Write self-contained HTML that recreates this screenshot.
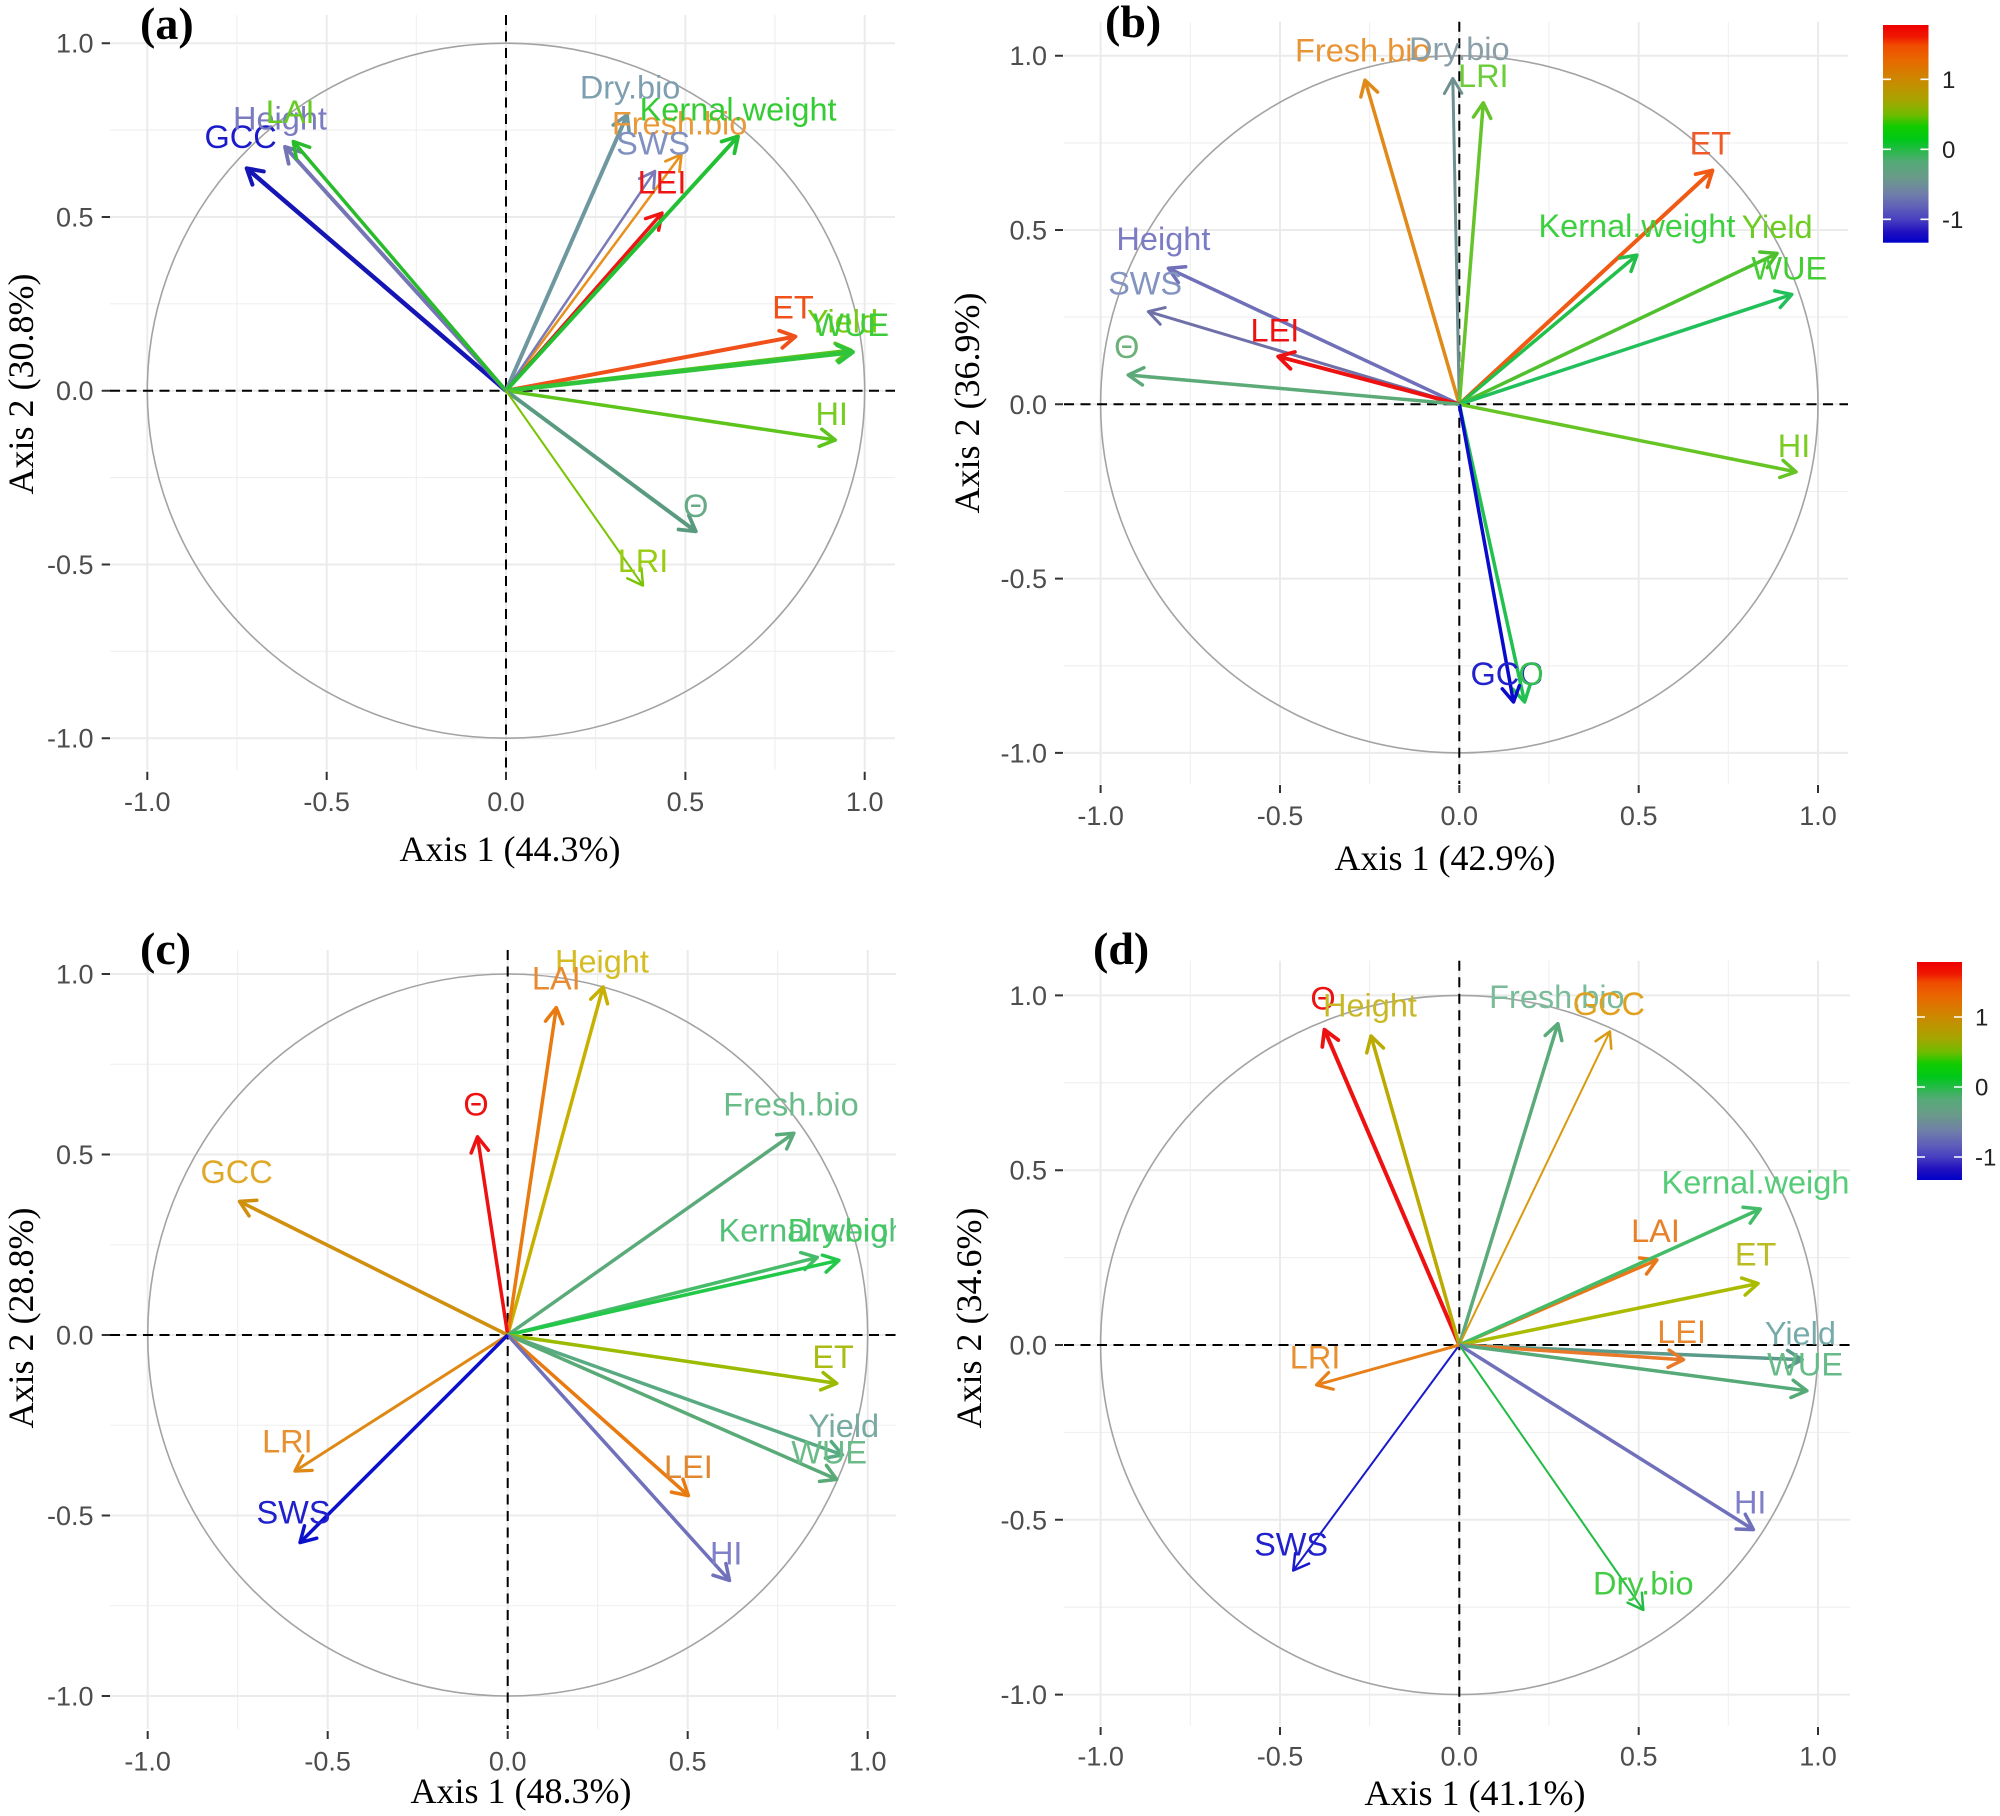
<!DOCTYPE html>
<html>
<head>
<meta charset="utf-8">
<style>
html,body{margin:0;padding:0;background:#fff;}
svg{display:block;}
.lbl{font-family:"Liberation Sans",Arial,sans-serif;font-size:32.5px;text-anchor:middle;}
.tk{font-family:"Liberation Sans",Arial,sans-serif;font-size:27px;fill:#4D4D4D;}
.ttl{font-family:"Liberation Serif","Times New Roman",serif;font-size:36px;fill:#000;text-anchor:middle;}
.tag{font-family:"Liberation Serif","Times New Roman",serif;font-size:46px;font-weight:bold;fill:#000;}
.leg{font-family:"Liberation Sans",Arial,sans-serif;font-size:24px;fill:#222;}
.gmaj{stroke:#EBEBEB;stroke-width:2;fill:none;}
.gmin{stroke:#EFEFEF;stroke-width:1.1;fill:none;}
.dash{stroke:#000;stroke-width:2;stroke-dasharray:10 6.5;fill:none;}
.circ{stroke:#A3A3A3;stroke-width:1.6;fill:none;}
.tick{stroke:#333;stroke-width:2;}
marker path{fill:none;stroke-linecap:round;stroke-linejoin:round;}
</style>
</head>
<body>
<svg width="2000" height="1816" viewBox="0 0 2000 1816" xmlns="http://www.w3.org/2000/svg">
<defs>
<clipPath id="clipA"><rect x="110" y="15" width="785" height="755"/></clipPath>
<clipPath id="clipB"><rect x="1064" y="21.7" width="784" height="762.3"/></clipPath>
<clipPath id="clipC"><rect x="110" y="950" width="786" height="779"/></clipPath>
<clipPath id="clipD"><rect x="1064" y="960.7" width="786" height="765.3"/></clipPath>
<linearGradient id="cbar" x1="0" y1="0" x2="0" y2="1">
<stop offset="0" stop-color="#EE0000"/>
<stop offset="0.055" stop-color="#F01800"/>
<stop offset="0.092" stop-color="#F04A00"/>
<stop offset="0.16" stop-color="#E86800"/>
<stop offset="0.25" stop-color="#CC8800"/>
<stop offset="0.345" stop-color="#A8A400"/>
<stop offset="0.413" stop-color="#70BB00"/>
<stop offset="0.468" stop-color="#10CC00"/>
<stop offset="0.528" stop-color="#00C81A"/>
<stop offset="0.571" stop-color="#22BB44"/>
<stop offset="0.629" stop-color="#55AA77"/>
<stop offset="0.703" stop-color="#6A9A8A"/>
<stop offset="0.772" stop-color="#7080A8"/>
<stop offset="0.836" stop-color="#6060B8"/>
<stop offset="0.893" stop-color="#4840C0"/>
<stop offset="0.951" stop-color="#2010C0"/>
<stop offset="1" stop-color="#0000C8"/>
</linearGradient>
<marker id="a1" orient="auto" markerUnits="userSpaceOnUse" overflow="visible"><path d="M-15,-8.7L0,0L-15,8.7" stroke="#1515B5" stroke-width="4"/></marker>
<marker id="a2" orient="auto" markerUnits="userSpaceOnUse" overflow="visible"><path d="M-15,-8.7L0,0L-15,8.7" stroke="#7575B5" stroke-width="3.8"/></marker>
<marker id="a3" orient="auto" markerUnits="userSpaceOnUse" overflow="visible"><path d="M-15,-8.7L0,0L-15,8.7" stroke="#28BB2A" stroke-width="3.5"/></marker>
<marker id="a4" orient="auto" markerUnits="userSpaceOnUse" overflow="visible"><path d="M-15,-8.7L0,0L-15,8.7" stroke="#6F97A0" stroke-width="3.5"/></marker>
<marker id="a5" orient="auto" markerUnits="userSpaceOnUse" overflow="visible"><path d="M-15,-8.7L0,0L-15,8.7" stroke="#22C033" stroke-width="3.8"/></marker>
<marker id="a6" orient="auto" markerUnits="userSpaceOnUse" overflow="visible"><path d="M-15,-8.7L0,0L-15,8.7" stroke="#E8901C" stroke-width="2.8"/></marker>
<marker id="a7" orient="auto" markerUnits="userSpaceOnUse" overflow="visible"><path d="M-15,-8.7L0,0L-15,8.7" stroke="#7A7AB8" stroke-width="2.8"/></marker>
<marker id="a8" orient="auto" markerUnits="userSpaceOnUse" overflow="visible"><path d="M-15,-8.7L0,0L-15,8.7" stroke="#EE1515" stroke-width="3.5"/></marker>
<marker id="a9" orient="auto" markerUnits="userSpaceOnUse" overflow="visible"><path d="M-15,-8.7L0,0L-15,8.7" stroke="#F0501A" stroke-width="3.8"/></marker>
<marker id="a10" orient="auto" markerUnits="userSpaceOnUse" overflow="visible"><path d="M-15,-8.7L0,0L-15,8.7" stroke="#55C41E" stroke-width="3.8"/></marker>
<marker id="a11" orient="auto" markerUnits="userSpaceOnUse" overflow="visible"><path d="M-15,-8.7L0,0L-15,8.7" stroke="#30C43A" stroke-width="4"/></marker>
<marker id="a12" orient="auto" markerUnits="userSpaceOnUse" overflow="visible"><path d="M-15,-8.7L0,0L-15,8.7" stroke="#5CC41A" stroke-width="3.5"/></marker>
<marker id="a13" orient="auto" markerUnits="userSpaceOnUse" overflow="visible"><path d="M-15,-8.7L0,0L-15,8.7" stroke="#5A9A80" stroke-width="3.8"/></marker>
<marker id="a14" orient="auto" markerUnits="userSpaceOnUse" overflow="visible"><path d="M-15,-8.7L0,0L-15,8.7" stroke="#77C400" stroke-width="2.4"/></marker>
<marker id="b1" orient="auto" markerUnits="userSpaceOnUse" overflow="visible"><path d="M-15,-8.7L0,0L-15,8.7" stroke="#E08A1A" stroke-width="3.5"/></marker>
<marker id="b2" orient="auto" markerUnits="userSpaceOnUse" overflow="visible"><path d="M-15,-8.7L0,0L-15,8.7" stroke="#6F9090" stroke-width="3"/></marker>
<marker id="b3" orient="auto" markerUnits="userSpaceOnUse" overflow="visible"><path d="M-15,-8.7L0,0L-15,8.7" stroke="#66C42A" stroke-width="3.5"/></marker>
<marker id="b4" orient="auto" markerUnits="userSpaceOnUse" overflow="visible"><path d="M-15,-8.7L0,0L-15,8.7" stroke="#F05A14" stroke-width="3.8"/></marker>
<marker id="b5" orient="auto" markerUnits="userSpaceOnUse" overflow="visible"><path d="M-15,-8.7L0,0L-15,8.7" stroke="#22C04A" stroke-width="3.5"/></marker>
<marker id="b6" orient="auto" markerUnits="userSpaceOnUse" overflow="visible"><path d="M-15,-8.7L0,0L-15,8.7" stroke="#4EC02E" stroke-width="3.5"/></marker>
<marker id="b7" orient="auto" markerUnits="userSpaceOnUse" overflow="visible"><path d="M-15,-8.7L0,0L-15,8.7" stroke="#22C05A" stroke-width="3.5"/></marker>
<marker id="b8" orient="auto" markerUnits="userSpaceOnUse" overflow="visible"><path d="M-15,-8.7L0,0L-15,8.7" stroke="#66C424" stroke-width="3.5"/></marker>
<marker id="b9" orient="auto" markerUnits="userSpaceOnUse" overflow="visible"><path d="M-15,-8.7L0,0L-15,8.7" stroke="#0A0ACC" stroke-width="3.5"/></marker>
<marker id="b10" orient="auto" markerUnits="userSpaceOnUse" overflow="visible"><path d="M-15,-8.7L0,0L-15,8.7" stroke="#22C050" stroke-width="3.5"/></marker>
<marker id="b11" orient="auto" markerUnits="userSpaceOnUse" overflow="visible"><path d="M-15,-8.7L0,0L-15,8.7" stroke="#7070BA" stroke-width="3.5"/></marker>
<marker id="b12" orient="auto" markerUnits="userSpaceOnUse" overflow="visible"><path d="M-15,-8.7L0,0L-15,8.7" stroke="#7070A8" stroke-width="3"/></marker>
<marker id="b13" orient="auto" markerUnits="userSpaceOnUse" overflow="visible"><path d="M-15,-8.7L0,0L-15,8.7" stroke="#EE1111" stroke-width="3.8"/></marker>
<marker id="b14" orient="auto" markerUnits="userSpaceOnUse" overflow="visible"><path d="M-15,-8.7L0,0L-15,8.7" stroke="#5CAA78" stroke-width="3.5"/></marker>
<marker id="c1" orient="auto" markerUnits="userSpaceOnUse" overflow="visible"><path d="M-15,-8.7L0,0L-15,8.7" stroke="#C8B000" stroke-width="3.5"/></marker>
<marker id="c2" orient="auto" markerUnits="userSpaceOnUse" overflow="visible"><path d="M-15,-8.7L0,0L-15,8.7" stroke="#E87A10" stroke-width="3.5"/></marker>
<marker id="c3" orient="auto" markerUnits="userSpaceOnUse" overflow="visible"><path d="M-15,-8.7L0,0L-15,8.7" stroke="#EE1111" stroke-width="3.5"/></marker>
<marker id="c4" orient="auto" markerUnits="userSpaceOnUse" overflow="visible"><path d="M-15,-8.7L0,0L-15,8.7" stroke="#D0900E" stroke-width="3.5"/></marker>
<marker id="c5" orient="auto" markerUnits="userSpaceOnUse" overflow="visible"><path d="M-15,-8.7L0,0L-15,8.7" stroke="#5AAA7A" stroke-width="3.5"/></marker>
<marker id="c6" orient="auto" markerUnits="userSpaceOnUse" overflow="visible"><path d="M-15,-8.7L0,0L-15,8.7" stroke="#48BB6A" stroke-width="3.5"/></marker>
<marker id="c7" orient="auto" markerUnits="userSpaceOnUse" overflow="visible"><path d="M-15,-8.7L0,0L-15,8.7" stroke="#22C848" stroke-width="3.5"/></marker>
<marker id="c8" orient="auto" markerUnits="userSpaceOnUse" overflow="visible"><path d="M-15,-8.7L0,0L-15,8.7" stroke="#9ABB00" stroke-width="3.5"/></marker>
<marker id="c9" orient="auto" markerUnits="userSpaceOnUse" overflow="visible"><path d="M-15,-8.7L0,0L-15,8.7" stroke="#58AA82" stroke-width="3.5"/></marker>
<marker id="c10" orient="auto" markerUnits="userSpaceOnUse" overflow="visible"><path d="M-15,-8.7L0,0L-15,8.7" stroke="#5AAA78" stroke-width="3.5"/></marker>
<marker id="c11" orient="auto" markerUnits="userSpaceOnUse" overflow="visible"><path d="M-15,-8.7L0,0L-15,8.7" stroke="#E87A10" stroke-width="3.5"/></marker>
<marker id="c12" orient="auto" markerUnits="userSpaceOnUse" overflow="visible"><path d="M-15,-8.7L0,0L-15,8.7" stroke="#7070BB" stroke-width="3.5"/></marker>
<marker id="c13" orient="auto" markerUnits="userSpaceOnUse" overflow="visible"><path d="M-15,-8.7L0,0L-15,8.7" stroke="#E08814" stroke-width="3.2"/></marker>
<marker id="c14" orient="auto" markerUnits="userSpaceOnUse" overflow="visible"><path d="M-15,-8.7L0,0L-15,8.7" stroke="#0A10CC" stroke-width="3.5"/></marker>
<marker id="d1" orient="auto" markerUnits="userSpaceOnUse" overflow="visible"><path d="M-15,-8.7L0,0L-15,8.7" stroke="#EE1111" stroke-width="3.8"/></marker>
<marker id="d2" orient="auto" markerUnits="userSpaceOnUse" overflow="visible"><path d="M-15,-8.7L0,0L-15,8.7" stroke="#BBAA00" stroke-width="3.5"/></marker>
<marker id="d3" orient="auto" markerUnits="userSpaceOnUse" overflow="visible"><path d="M-15,-8.7L0,0L-15,8.7" stroke="#5AAA7A" stroke-width="3.5"/></marker>
<marker id="d4" orient="auto" markerUnits="userSpaceOnUse" overflow="visible"><path d="M-15,-8.7L0,0L-15,8.7" stroke="#D89A10" stroke-width="2.5"/></marker>
<marker id="d5" orient="auto" markerUnits="userSpaceOnUse" overflow="visible"><path d="M-15,-8.7L0,0L-15,8.7" stroke="#44BB66" stroke-width="3.5"/></marker>
<marker id="d6" orient="auto" markerUnits="userSpaceOnUse" overflow="visible"><path d="M-15,-8.7L0,0L-15,8.7" stroke="#E8771A" stroke-width="3.5"/></marker>
<marker id="d7" orient="auto" markerUnits="userSpaceOnUse" overflow="visible"><path d="M-15,-8.7L0,0L-15,8.7" stroke="#AABB00" stroke-width="3.5"/></marker>
<marker id="d8" orient="auto" markerUnits="userSpaceOnUse" overflow="visible"><path d="M-15,-8.7L0,0L-15,8.7" stroke="#E8782A" stroke-width="3.5"/></marker>
<marker id="d9" orient="auto" markerUnits="userSpaceOnUse" overflow="visible"><path d="M-15,-8.7L0,0L-15,8.7" stroke="#5A9A8A" stroke-width="3.5"/></marker>
<marker id="d10" orient="auto" markerUnits="userSpaceOnUse" overflow="visible"><path d="M-15,-8.7L0,0L-15,8.7" stroke="#55AA77" stroke-width="3.5"/></marker>
<marker id="d11" orient="auto" markerUnits="userSpaceOnUse" overflow="visible"><path d="M-15,-8.7L0,0L-15,8.7" stroke="#7070BB" stroke-width="3.5"/></marker>
<marker id="d12" orient="auto" markerUnits="userSpaceOnUse" overflow="visible"><path d="M-15,-8.7L0,0L-15,8.7" stroke="#22BB44" stroke-width="2.5"/></marker>
<marker id="d13" orient="auto" markerUnits="userSpaceOnUse" overflow="visible"><path d="M-15,-8.7L0,0L-15,8.7" stroke="#1A1ACC" stroke-width="2.5"/></marker>
<marker id="d14" orient="auto" markerUnits="userSpaceOnUse" overflow="visible"><path d="M-15,-8.7L0,0L-15,8.7" stroke="#E8801A" stroke-width="3.2"/></marker>
</defs>

<rect x="0" y="0" width="2000" height="1816" fill="#fff"/>

<!-- PANEL A -->
<g>
<path class="gmin" d="M237,15V770M416.3,15V770M595.7,15V770M775,15V770M110,130.1H895M110,303.8H895M110,477.6H895M110,651.3H895"/>
<path class="gmaj" d="M147.3,15V770M326.7,15V770M506,15V770M685.4,15V770M864.7,15V770M110,43.2H895M110,217H895M110,390.7H895M110,564.5H895M110,738.2H895"/>
<ellipse class="circ" cx="506" cy="390.7" rx="358.7" ry="347.5"/>
<path class="dash" d="M110,390.7H895M506,15V770"/>
<path class="tick" d="M101.7,43.2H110M101.7,217H110M101.7,390.7H110M101.7,564.5H110M101.7,738.2H110M147.3,771.7V780M326.7,771.7V780M506,771.7V780M685.4,771.7V780M864.7,771.7V780"/>
<g class="tk" text-anchor="end">
<text x="93.5" y="52.7">1.0</text><text x="93.5" y="226.5">0.5</text><text x="93.5" y="400.2">0.0</text><text x="93.5" y="574">-0.5</text><text x="93.5" y="747.7">-1.0</text>
</g>
<g class="tk" text-anchor="middle">
<text x="147.3" y="811">-1.0</text><text x="326.7" y="811">-0.5</text><text x="506" y="811">0.0</text><text x="685.4" y="811">0.5</text><text x="864.7" y="811">1.0</text>
</g>
<g clip-path="url(#clipA)" fill="none">
<line x1="506" y1="390.7" x2="246.7" y2="168.3" stroke="#1515B5" stroke-width="4.5" marker-end="url(#a1)"/>
<line x1="506" y1="390.7" x2="285" y2="146.8" stroke="#7575B5" stroke-width="4" marker-end="url(#a2)"/>
<line x1="506" y1="390.7" x2="293.3" y2="141.5" stroke="#28BB2A" stroke-width="3.5" marker-end="url(#a3)"/>
<line x1="506" y1="390.7" x2="627.2" y2="114.8" stroke="#6F97A0" stroke-width="4" marker-end="url(#a4)"/>
<line x1="506" y1="390.7" x2="681.4" y2="154.4" stroke="#E8901C" stroke-width="2.5" marker-end="url(#a6)"/>
<line x1="506" y1="390.7" x2="654.9" y2="171.1" stroke="#7A7AB8" stroke-width="2.5" marker-end="url(#a7)"/>
<line x1="506" y1="390.7" x2="662" y2="213.1" stroke="#EE1515" stroke-width="3.5" marker-end="url(#a8)"/>
<line x1="506" y1="390.7" x2="738.1" y2="136.3" stroke="#22C033" stroke-width="4" marker-end="url(#a5)"/>
<line x1="506" y1="390.7" x2="795.5" y2="336.5" stroke="#F0501A" stroke-width="4" marker-end="url(#a9)"/>
<line x1="506" y1="390.7" x2="851.1" y2="350.4" stroke="#55C41E" stroke-width="4" marker-end="url(#a10)"/>
<line x1="506" y1="390.7" x2="852.9" y2="352.1" stroke="#30C43A" stroke-width="4.5" marker-end="url(#a11)"/>
<line x1="506" y1="390.7" x2="835.3" y2="440" stroke="#5CC41A" stroke-width="3.5" marker-end="url(#a12)"/>
<line x1="506" y1="390.7" x2="695.8" y2="531.4" stroke="#5A9A80" stroke-width="4" marker-end="url(#a13)"/>
<line x1="506" y1="390.7" x2="643" y2="585.6" stroke="#77C400" stroke-width="2" marker-end="url(#a14)"/>
</g>
<g clip-path="url(#clipA)" class="lbl">
<text x="240.6" y="136.7" dy="0.35em" fill="#1A1AC8">GCC</text>
<text x="280" y="118.3" dy="0.35em" fill="#7B7BC0">Height</text>
<text x="290.1" y="111.7" dy="0.35em" fill="#66CC22">LAI</text>
<text x="630.1" y="87" dy="0.35em" fill="#7E9FB0">Dry.bio</text>
<text x="679.6" y="123.1" dy="0.35em" fill="#E89A3A">Fresh.bio</text>
<text x="738.1" y="109.2" dy="0.35em" fill="#33CC33">Kernal.weight</text>
<text x="653.1" y="142.9" dy="0.35em" fill="#8090C0">SWS</text>
<text x="662" y="182.2" dy="0.35em" fill="#EE1515">LEI</text>
<text x="793" y="307.3" dy="0.35em" fill="#F0501A">ET</text>
<text x="842.5" y="321.2" dy="0.35em" fill="#77CC11">Yield</text>
<text x="851.1" y="324.7" dy="0.35em" fill="#3CCC3C">WUE</text>
<text x="831.7" y="413.6" dy="0.35em" fill="#77CC22">HI</text>
<text x="695.8" y="505.4" dy="0.35em" fill="#66AA88">Θ</text>
<text x="643" y="560.6" dy="0.35em" fill="#99CC11">LRI</text>
</g>
<text class="tag" x="140" y="39">(a)</text>
<text class="ttl" x="510" y="861">Axis 1 (44.3%)</text>
<text class="ttl" transform="translate(33,384) rotate(-90)">Axis 2 (30.8%)</text>
</g>

<!-- PANEL B -->
<g>
<path class="gmin" d="M1190.3,21.7V784M1369.6,21.7V784M1549,21.7V784M1728.3,21.7V784M1064,142.9H1848M1064,317.1H1848M1064,491.5H1848M1064,665.8H1848"/>
<path class="gmaj" d="M1100.6,21.7V784M1280,21.7V784M1459.3,21.7V784M1638.7,21.7V784M1818,21.7V784M1064,55.7H1848M1064,230H1848M1064,404.3H1848M1064,578.6H1848M1064,752.9H1848"/>
<ellipse class="circ" cx="1459.3" cy="404.3" rx="358.7" ry="348.6"/>
<path class="dash" d="M1064,404.3H1848M1459.3,21.7V784"/>
<path class="tick" d="M1055,55.7H1063M1055,230H1063M1055,404.3H1063M1055,578.6H1063M1055,752.9H1063M1100.6,785V793M1280,785V793M1459.3,785V793M1638.7,785V793M1818,785V793"/>
<g class="tk" text-anchor="end">
<text x="1047" y="65.2">1.0</text><text x="1047" y="239.5">0.5</text><text x="1047" y="413.8">0.0</text><text x="1047" y="588.1">-0.5</text><text x="1047" y="762.4">-1.0</text>
</g>
<g class="tk" text-anchor="middle">
<text x="1100.6" y="825">-1.0</text><text x="1280" y="825">-0.5</text><text x="1459.3" y="825">0.0</text><text x="1638.7" y="825">0.5</text><text x="1818" y="825">1.0</text>
</g>
<g clip-path="url(#clipB)" fill="none">
<line x1="1459.3" y1="404.3" x2="1365" y2="80.1" stroke="#E08A1A" stroke-width="3.5" marker-end="url(#b1)"/>
<line x1="1459.3" y1="404.3" x2="1452.8" y2="78.4" stroke="#6F9090" stroke-width="3" marker-end="url(#b2)"/>
<line x1="1459.3" y1="404.3" x2="1483.3" y2="102.8" stroke="#66C42A" stroke-width="3.5" marker-end="url(#b3)"/>
<line x1="1459.3" y1="404.3" x2="1712.5" y2="170.4" stroke="#F05A14" stroke-width="4" marker-end="url(#b4)"/>
<line x1="1459.3" y1="404.3" x2="1636.9" y2="255.1" stroke="#22C04A" stroke-width="3.5" marker-end="url(#b5)"/>
<line x1="1459.3" y1="404.3" x2="1777.1" y2="253.4" stroke="#4EC02E" stroke-width="3.5" marker-end="url(#b6)"/>
<line x1="1459.3" y1="404.3" x2="1791.8" y2="294.5" stroke="#22C05A" stroke-width="3.5" marker-end="url(#b7)"/>
<line x1="1459.3" y1="404.3" x2="1796.1" y2="471.9" stroke="#66C424" stroke-width="3.5" marker-end="url(#b8)"/>
<line x1="1459.3" y1="404.3" x2="1524.6" y2="702" stroke="#22C050" stroke-width="3.5" marker-end="url(#b10)"/>
<line x1="1459.3" y1="404.3" x2="1513.5" y2="702" stroke="#0A0ACC" stroke-width="3.5" marker-end="url(#b9)"/>
<line x1="1459.3" y1="404.3" x2="1168.4" y2="268.3" stroke="#7070BA" stroke-width="3.5" marker-end="url(#b11)"/>
<line x1="1459.3" y1="404.3" x2="1148.3" y2="311.6" stroke="#7070A8" stroke-width="3" marker-end="url(#b12)"/>
<line x1="1459.3" y1="404.3" x2="1278.2" y2="356.5" stroke="#EE1111" stroke-width="4" marker-end="url(#b13)"/>
<line x1="1459.3" y1="404.3" x2="1128.2" y2="375" stroke="#5CAA78" stroke-width="3.5" marker-end="url(#b14)"/>
</g>
<g clip-path="url(#clipB)" class="lbl">
<text x="1362.8" y="50.1" dy="0.35em" fill="#E89434">Fresh.bio</text>
<text x="1459.3" y="48.7" dy="0.35em" fill="#8A9FA8">Dry.bio</text>
<text x="1483.3" y="75.6" dy="0.35em" fill="#6CCC3A">LRI</text>
<text x="1710.4" y="143.2" dy="0.35em" fill="#EE5A28">ET</text>
<text x="1636.9" y="225.8" dy="0.35em" fill="#3CD040">Kernal.weight</text>
<text x="1777.1" y="226.5" dy="0.35em" fill="#6CCC22">Yield</text>
<text x="1789.3" y="268" dy="0.35em" fill="#44CC33">WUE</text>
<text x="1794" y="445.4" dy="0.35em" fill="#7ACC22">HI</text>
<text x="1506.6" y="673.8" dy="0.35em" fill="#2222CC">GCC</text>
<text x="1531" y="673.8" dy="0.35em" fill="#33C050">O</text>
<text x="1163.4" y="238.4" dy="0.35em" fill="#7C7CC4">Height</text>
<text x="1145.1" y="283.3" dy="0.35em" fill="#8494C0">SWS</text>
<text x="1274.9" y="330" dy="0.35em" fill="#EE1111">LEI</text>
<text x="1126.8" y="346.8" dy="0.35em" fill="#6CB07A">Θ</text>
</g>
<text class="tag" x="1105" y="37">(b)</text>
<text class="ttl" x="1445" y="870">Axis 1 (42.9%)</text>
<text class="ttl" transform="translate(979,403) rotate(-90)">Axis 2 (36.9%)</text>
<rect x="1883" y="25" width="45.5" height="217.7" fill="url(#cbar)"/>
<path stroke="#fff" stroke-width="1.6" d="M1883,79.3H1891M1920.5,79.3H1928.5M1883,149.3H1891M1920.5,149.3H1928.5M1883,219.3H1891M1920.5,219.3H1928.5"/>
<g class="leg">
<text x="1942" y="87.8">1</text><text x="1942" y="157.8">0</text><text x="1942" y="227.8">-1</text>
</g>
</g>

<!-- PANEL C -->
<g>
<path class="gmin" d="M237.7,950V1729M417.7,950V1729M597.7,950V1729M777.7,950V1729M110,1064.25H896M110,1244.75H896M110,1425.25H896M110,1605.75H896"/>
<path class="gmaj" d="M147.7,950V1729M327.7,950V1729M507.7,950V1729M687.7,950V1729M867.7,950V1729M110,974H896M110,1154.5H896M110,1335H896M110,1515.5H896M110,1696H896"/>
<ellipse class="circ" cx="507.7" cy="1335" rx="360" ry="361"/>
<path class="dash" d="M110,1335H896M507.7,950V1729"/>
<path class="tick" d="M101.7,974H110M101.7,1154.5H110M101.7,1335H110M101.7,1515.5H110M101.7,1696H110M147.7,1731V1739M327.7,1731V1739M507.7,1731V1739M687.7,1731V1739M867.7,1731V1739"/>
<g class="tk" text-anchor="end">
<text x="93.5" y="983.5">1.0</text><text x="93.5" y="1164">0.5</text><text x="93.5" y="1344.5">0.0</text><text x="93.5" y="1525">-0.5</text><text x="93.5" y="1705.5">-1.0</text>
</g>
<g class="tk" text-anchor="middle">
<text x="147.7" y="1770.5">-1.0</text><text x="327.7" y="1770.5">-0.5</text><text x="507.7" y="1770.5">0.0</text><text x="687.7" y="1770.5">0.5</text><text x="867.7" y="1770.5">1.0</text>
</g>
<g clip-path="url(#clipC)" fill="none">
<line x1="507.7" y1="1335" x2="603.1" y2="987" stroke="#C8B000" stroke-width="3.5" marker-end="url(#c1)"/>
<line x1="507.7" y1="1335" x2="556.3" y2="1007.6" stroke="#E87A10" stroke-width="3.5" marker-end="url(#c2)"/>
<line x1="507.7" y1="1335" x2="477.5" y2="1136.8" stroke="#EE1111" stroke-width="3.5" marker-end="url(#c3)"/>
<line x1="507.7" y1="1335" x2="239.5" y2="1201.4" stroke="#D0900E" stroke-width="3.5" marker-end="url(#c4)"/>
<line x1="507.7" y1="1335" x2="793.9" y2="1133.2" stroke="#5AAA7A" stroke-width="3.5" marker-end="url(#c5)"/>
<line x1="507.7" y1="1335" x2="817.3" y2="1257.4" stroke="#48BB6A" stroke-width="3.5" marker-end="url(#c6)"/>
<line x1="507.7" y1="1335" x2="838.9" y2="1260.3" stroke="#22C848" stroke-width="3.5" marker-end="url(#c7)"/>
<line x1="507.7" y1="1335" x2="836.7" y2="1383.4" stroke="#9ABB00" stroke-width="3.5" marker-end="url(#c8)"/>
<line x1="507.7" y1="1335" x2="842.5" y2="1454.9" stroke="#58AA82" stroke-width="3.5" marker-end="url(#c9)"/>
<line x1="507.7" y1="1335" x2="836.7" y2="1479.4" stroke="#5AAA78" stroke-width="3.5" marker-end="url(#c10)"/>
<line x1="507.7" y1="1335" x2="688.4" y2="1495.6" stroke="#E87A10" stroke-width="3.5" marker-end="url(#c11)"/>
<line x1="507.7" y1="1335" x2="729.5" y2="1580.5" stroke="#7070BB" stroke-width="3.5" marker-end="url(#c12)"/>
<line x1="507.7" y1="1335" x2="294.9" y2="1471.1" stroke="#E08814" stroke-width="3" marker-end="url(#c13)"/>
<line x1="507.7" y1="1335" x2="300" y2="1542.6" stroke="#0A10CC" stroke-width="3.5" marker-end="url(#c14)"/>
</g>
<g clip-path="url(#clipC)" class="lbl">
<text x="602" y="961" dy="0.35em" fill="#D4BC22">Height</text>
<text x="556.3" y="978.3" dy="0.35em" fill="#E88A30">LAI</text>
<text x="476" y="1104" dy="0.35em" fill="#EE1111">Θ</text>
<text x="236.6" y="1171.8" dy="0.35em" fill="#E0A828">GCC</text>
<text x="791" y="1104" dy="0.35em" fill="#6ABB8A">Fresh.bio</text>
<text x="817" y="1229.9" dy="0.35em" fill="#55C078">Kernal.weight</text>
<text x="838" y="1229.9" dy="0.35em" fill="#44C860">Dry.bio</text>
<text x="833.1" y="1356.7" dy="0.35em" fill="#AABB11">ET</text>
<text x="843.6" y="1425.6" dy="0.35em" fill="#77AAA0">Yield</text>
<text x="829.2" y="1452" dy="0.35em" fill="#6ABB88">WUE</text>
<text x="688.4" y="1466.4" dy="0.35em" fill="#E08830">LEI</text>
<text x="726.2" y="1553" dy="0.35em" fill="#8080C8">HI</text>
<text x="287.4" y="1441.1" dy="0.35em" fill="#E89030">LRI</text>
<text x="293.5" y="1511.9" dy="0.35em" fill="#2020CC">SWS</text>
</g>
<text class="tag" x="140" y="964">(c)</text>
<text class="ttl" x="521" y="1803">Axis 1 (48.3%)</text>
<text class="ttl" transform="translate(33,1318) rotate(-90)">Axis 2 (28.8%)</text>
</g>

<!-- PANEL D -->
<g>
<path class="gmin" d="M1190.3,960.7V1726M1369.6,960.7V1726M1549,960.7V1726M1728.3,960.7V1726M1064,1082.8H1850M1064,1257.6H1850M1064,1432.4H1850M1064,1607.2H1850"/>
<path class="gmaj" d="M1100.6,960.7V1726M1280,960.7V1726M1459.3,960.7V1726M1638.7,960.7V1726M1818,960.7V1726M1064,995.4H1850M1064,1170.2H1850M1064,1345H1850M1064,1519.8H1850M1064,1694.6H1850"/>
<ellipse class="circ" cx="1459.3" cy="1345" rx="358.7" ry="349.6"/>
<path class="dash" d="M1064,1345H1852M1459.3,960.7V1726"/>
<path class="tick" d="M1055,995.4H1063M1055,1170.2H1063M1055,1345H1063M1055,1519.8H1063M1055,1694.6H1063M1100.6,1727V1735M1280,1727V1735M1459.3,1727V1735M1638.7,1727V1735M1818,1727V1735"/>
<g class="tk" text-anchor="end">
<text x="1047" y="1004.9">1.0</text><text x="1047" y="1179.7">0.5</text><text x="1047" y="1354.5">0.0</text><text x="1047" y="1529.3">-0.5</text><text x="1047" y="1704.1">-1.0</text>
</g>
<g class="tk" text-anchor="middle">
<text x="1100.6" y="1765.5">-1.0</text><text x="1280" y="1765.5">-0.5</text><text x="1459.3" y="1765.5">0.0</text><text x="1638.7" y="1765.5">0.5</text><text x="1818" y="1765.5">1.0</text>
</g>
<g clip-path="url(#clipD)" fill="none">
<line x1="1459.3" y1="1345" x2="1324.4" y2="1029.7" stroke="#EE1111" stroke-width="4" marker-end="url(#d1)"/>
<line x1="1459.3" y1="1345" x2="1371" y2="1036" stroke="#BBAA00" stroke-width="3.5" marker-end="url(#d2)"/>
<line x1="1459.3" y1="1345" x2="1557.9" y2="1023.7" stroke="#5AAA7A" stroke-width="3.5" marker-end="url(#d3)"/>
<line x1="1459.3" y1="1345" x2="1609.9" y2="1031.4" stroke="#D89A10" stroke-width="2" marker-end="url(#d4)"/>
<line x1="1459.3" y1="1345" x2="1656.9" y2="1260" stroke="#E8771A" stroke-width="3.5" marker-end="url(#d6)"/>
<line x1="1459.3" y1="1345" x2="1760.3" y2="1209" stroke="#44BB66" stroke-width="3.5" marker-end="url(#d5)"/>
<line x1="1459.3" y1="1345" x2="1758.1" y2="1283.5" stroke="#AABB00" stroke-width="3.5" marker-end="url(#d7)"/>
<line x1="1459.3" y1="1345" x2="1802.2" y2="1359.7" stroke="#5A9A8A" stroke-width="3.5" marker-end="url(#d9)"/>
<line x1="1459.3" y1="1345" x2="1683.5" y2="1359.7" stroke="#E8782A" stroke-width="3.5" marker-end="url(#d8)"/>
<line x1="1459.3" y1="1345" x2="1806.9" y2="1390.8" stroke="#55AA77" stroke-width="3.5" marker-end="url(#d10)"/>
<line x1="1459.3" y1="1345" x2="1753.4" y2="1529.6" stroke="#7070BB" stroke-width="3.5" marker-end="url(#d11)"/>
<line x1="1459.3" y1="1345" x2="1643.3" y2="1610" stroke="#22BB44" stroke-width="2" marker-end="url(#d12)"/>
<line x1="1459.3" y1="1345" x2="1293.2" y2="1570.5" stroke="#1A1ACC" stroke-width="2" marker-end="url(#d13)"/>
<line x1="1459.3" y1="1345" x2="1316.5" y2="1384.9" stroke="#E8801A" stroke-width="3" marker-end="url(#d14)"/>
</g>
<g clip-path="url(#clipD)" class="lbl">
<text x="1323" y="998.2" dy="0.35em" fill="#EE1111">Θ</text>
<text x="1370" y="1005" dy="0.35em" fill="#C8B828">Height</text>
<text x="1556.9" y="996.4" dy="0.35em" fill="#7ABB99">Fresh.bio</text>
<text x="1608.9" y="1003.8" dy="0.35em" fill="#E0A020">GCC</text>
<text x="1760" y="1182.1" dy="0.35em" fill="#55CC77">Kernal.weight</text>
<text x="1655.5" y="1230.7" dy="0.35em" fill="#E8802A">LAI</text>
<text x="1755.6" y="1254.1" dy="0.35em" fill="#BBBB22">ET</text>
<text x="1681.7" y="1331.4" dy="0.35em" fill="#E88830">LEI</text>
<text x="1800.4" y="1333.1" dy="0.35em" fill="#77AAAA">Yield</text>
<text x="1805.1" y="1364.2" dy="0.35em" fill="#66BB88">WUE</text>
<text x="1750.2" y="1502" dy="0.35em" fill="#8080C8">HI</text>
<text x="1643.3" y="1583.1" dy="0.35em" fill="#44CC44">Dry.bio</text>
<text x="1291.1" y="1544.3" dy="0.35em" fill="#2020CC">SWS</text>
<text x="1315.1" y="1356.9" dy="0.35em" fill="#E89030">LRI</text>
</g>
<text class="tag" x="1093" y="964">(d)</text>
<text class="ttl" x="1475" y="1805">Axis 1 (41.1%)</text>
<text class="ttl" transform="translate(981,1318) rotate(-90)">Axis 2 (34.6%)</text>
<rect x="1917" y="962" width="45" height="218" fill="url(#cbar)"/>
<path stroke="#fff" stroke-width="1.6" d="M1917,1017H1925M1954,1017H1962M1917,1087H1925M1954,1087H1962M1917,1157H1925M1954,1157H1962"/>
<g class="leg">
<text x="1975" y="1025.5">1</text><text x="1975" y="1095.5">0</text><text x="1975" y="1165.5">-1</text>
</g>
</g>
</svg>
</body>
</html>
